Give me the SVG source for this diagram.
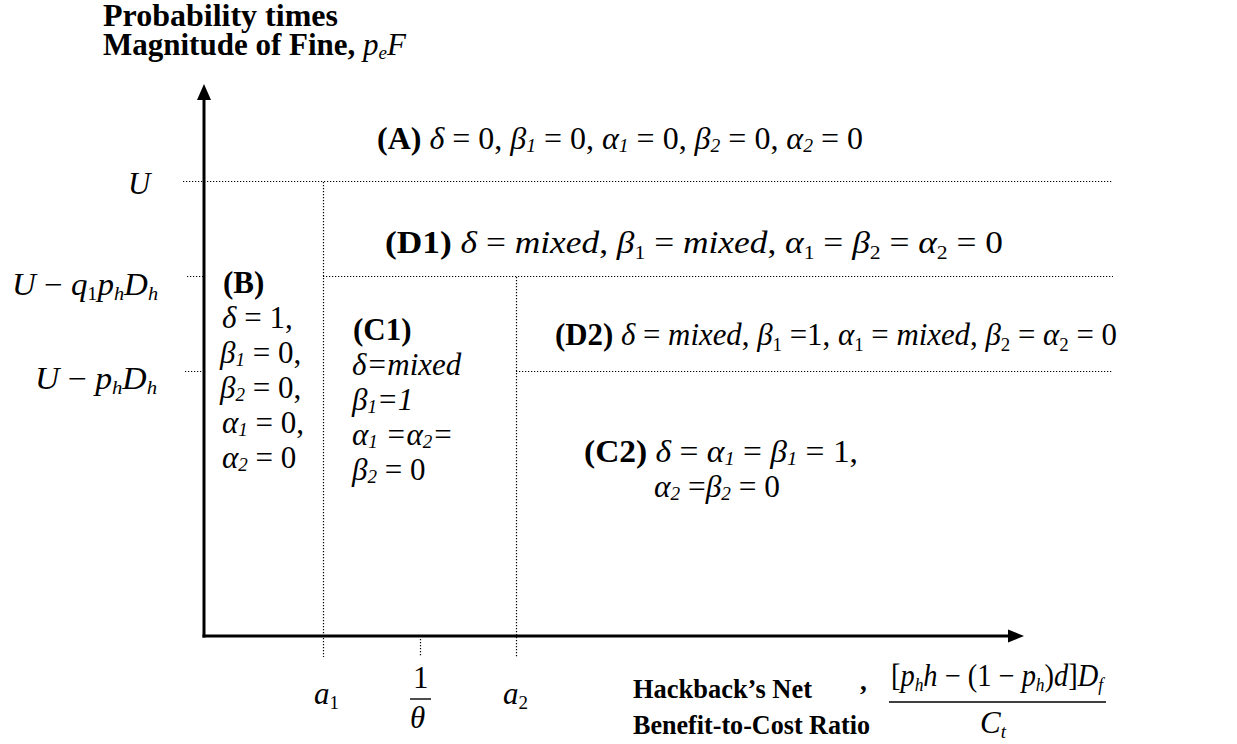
<svg xmlns="http://www.w3.org/2000/svg" width="1237" height="744" viewBox="0 0 1237 744">
<style>
text { font-family: "Liberation Serif", "Times New Roman", serif; fill: #000; font-size: 31px; }
.b { font-weight: bold; }
.i { font-style: italic; }
.ttl { font-size: 31px; font-weight: bold; }
.bt { font-size: 27px; font-weight: bold; }
.s { font-size: 19px; }
.ax { stroke: #000; stroke-width: 3; fill: none; }
.dot { stroke: #000; stroke-width: 1.2; stroke-dasharray: 1.2 1.8; fill: none; }
.bar { stroke: #000; stroke-width: 1.4; }
</style>
<rect width="1237" height="744" fill="#fff"/>

<g id="connectors">
  <line class="dot" x1="183" y1="181.5" x2="1113" y2="181.5"/>
  <line class="dot" x1="187" y1="276.5" x2="204" y2="276.5"/>
  <line class="dot" x1="323" y1="276.5" x2="1113" y2="276.5"/>
  <line class="dot" x1="185" y1="371.5" x2="204" y2="371.5"/>
  <line class="dot" x1="516" y1="371.5" x2="1113" y2="371.5"/>
  <line class="dot" x1="323.5" y1="182" x2="323.5" y2="657"/>
  <line class="dot" x1="420.5" y1="639" x2="420.5" y2="657"/>
  <line class="dot" x1="516.5" y1="277" x2="516.5" y2="657"/>
  <g id="axes">
    <line class="ax" x1="204" y1="98" x2="204" y2="637.5"/>
    <line class="ax" x1="202.5" y1="636" x2="1010" y2="636"/>
    <polygon points="204,84 197,100 211,100" fill="#000"/>
    <polygon points="1024,636 1008,629.5 1008,642.5" fill="#000"/>
  </g>
</g>

<g id="y-title">
  <text class="ttl" x="103" y="26"><tspan x="103" y="26" textLength="235" lengthAdjust="spacingAndGlyphs">Probability times</tspan><tspan x="103" y="55">Magnitude of Fine, </tspan><tspan class="i" font-weight="normal">p</tspan><tspan class="i s" font-weight="normal" dy="4">e</tspan><tspan class="i" font-weight="normal" dy="-4">F</tspan></text>
</g>

<g id="y-labels">
  <text class="i" x="128" y="194">U</text>
  <text x="12" y="295" textLength="146" lengthAdjust="spacingAndGlyphs"><tspan class="i">U</tspan> − <tspan class="i">q</tspan><tspan class="s" dy="5">1</tspan><tspan class="i" dy="-5">p</tspan><tspan class="i s" dy="5">h</tspan><tspan class="i" dy="-5">D</tspan><tspan class="i s" dy="5">h</tspan></text>
  <text x="35" y="389" textLength="122" lengthAdjust="spacingAndGlyphs"><tspan class="i">U</tspan> − <tspan class="i">p</tspan><tspan class="i s" dy="5">h</tspan><tspan class="i" dy="-5">D</tspan><tspan class="i s" dy="5">h</tspan></text>
</g>

<g id="region-A">
  <text x="377" y="149" textLength="486" lengthAdjust="spacingAndGlyphs"><tspan class="b">(A)</tspan>  <tspan class="i">δ</tspan> = 0, <tspan class="i">β</tspan><tspan class="i s" dy="3">1</tspan><tspan dy="-3"> = 0, </tspan><tspan class="i">α</tspan><tspan class="i s" dy="3">1</tspan><tspan dy="-3"> = 0, </tspan><tspan class="i">β</tspan><tspan class="i s" dy="3">2</tspan><tspan dy="-3"> = 0, </tspan><tspan class="i">α</tspan><tspan class="i s" dy="3">2</tspan><tspan dy="-3"> = 0</tspan></text>
</g>

<g id="region-D1">
  <text x="385" y="253" textLength="618" lengthAdjust="spacingAndGlyphs"><tspan class="b">(D1)</tspan>   <tspan class="i">δ</tspan> = <tspan class="i">mixed</tspan>, <tspan class="i">β</tspan><tspan class="s" dy="6">1</tspan><tspan dy="-6"> = </tspan><tspan class="i">mixed</tspan>, <tspan class="i">α</tspan><tspan class="s" dy="6">1</tspan><tspan dy="-6"> = </tspan><tspan class="i">β</tspan><tspan class="s" dy="6">2</tspan><tspan dy="-6"> = </tspan><tspan class="i">α</tspan><tspan class="s" dy="6">2</tspan><tspan dy="-6"> = 0</tspan></text>
</g>

<g id="region-D2">
  <text x="555" y="345" textLength="562" lengthAdjust="spacingAndGlyphs"><tspan class="b">(D2)</tspan> <tspan class="i">δ</tspan> = <tspan class="i">mixed</tspan>, <tspan class="i">β</tspan><tspan class="s" dy="6">1</tspan><tspan dy="-6"> =1, </tspan><tspan class="i">α</tspan><tspan class="s" dy="6">1</tspan><tspan dy="-6"> = </tspan><tspan class="i">mixed</tspan>, <tspan class="i">β</tspan><tspan class="s" dy="6">2</tspan><tspan dy="-6"> = </tspan><tspan class="i">α</tspan><tspan class="s" dy="6">2</tspan><tspan dy="-6"> = 0</tspan></text>
</g>

<g id="region-B">
  <text class="b" x="223" y="293">(B)</text>
  <text x="222" y="328"><tspan class="i">δ</tspan> = 1,</text>
  <text x="220" y="363"><tspan class="i">β</tspan><tspan class="i s" dy="3">1</tspan><tspan dy="-3"> = 0,</tspan></text>
  <text x="220" y="398"><tspan class="i">β</tspan><tspan class="i s" dy="3">2</tspan><tspan dy="-3"> = 0,</tspan></text>
  <text x="222" y="433"><tspan class="i">α</tspan><tspan class="i s" dy="3">1</tspan><tspan dy="-3"> = 0,</tspan></text>
  <text x="222" y="468"><tspan class="i">α</tspan><tspan class="i s" dy="3">2</tspan><tspan dy="-3"> = 0</tspan></text>
</g>

<g id="region-C1">
  <text class="b" x="353" y="340">(C1)</text>
  <text class="i" x="352" y="375">δ=mixed</text>
  <text class="i" x="352" y="410">β<tspan class="s" dy="3">1</tspan><tspan dy="-3">=1</tspan></text>
  <text class="i" x="352" y="445">α<tspan class="s" dy="3">1</tspan><tspan dy="-3"> =α</tspan><tspan class="s" dy="3">2</tspan><tspan dy="-3">=</tspan></text>
  <text x="352" y="480"><tspan class="i">β</tspan><tspan class="i s" dy="3">2</tspan><tspan dy="-3"> = 0</tspan></text>
</g>

<g id="region-C2">
  <text x="584" y="462" textLength="274" lengthAdjust="spacingAndGlyphs"><tspan class="b">(C2)</tspan>  <tspan class="i">δ</tspan> = <tspan class="i">α</tspan><tspan class="i s" dy="3">1</tspan><tspan dy="-3"> = </tspan><tspan class="i">β</tspan><tspan class="i s" dy="3">1</tspan><tspan dy="-3"> = 1,</tspan></text>
  <text x="654" y="497" textLength="126" lengthAdjust="spacingAndGlyphs"><tspan class="i">α</tspan><tspan class="i s" dy="3">2</tspan><tspan dy="-3"> =</tspan><tspan class="i">β</tspan><tspan class="i s" dy="3">2</tspan><tspan dy="-3"> = 0</tspan></text>
</g>

<g id="x-ticks">
  <text x="314" y="704"><tspan class="i">a</tspan><tspan class="s" dy="5">1</tspan></text>
  <text x="413" y="688">1</text>
  <line class="bar" x1="410" y1="699" x2="431" y2="699"/>
  <text class="i" x="410" y="728">θ</text>
  <text x="503" y="704"><tspan class="i">a</tspan><tspan class="s" dy="5">2</tspan></text>
</g>

<g id="x-title">
  <text class="bt" x="633" y="698" textLength="179" lengthAdjust="spacingAndGlyphs">Hackback’s Net</text>
  <text class="bt" x="633" y="734" textLength="237" lengthAdjust="spacingAndGlyphs">Benefit-to-Cost Ratio</text>
  <text class="bt" x="860" y="690">,</text>
  <text x="891" y="686" font-size="26" textLength="212" lengthAdjust="spacingAndGlyphs">[<tspan class="i">p</tspan><tspan class="i s" dy="5">h</tspan><tspan class="i" dy="-5">h</tspan> − (1 − <tspan class="i">p</tspan><tspan class="i s" dy="5">h</tspan><tspan dy="-5">)</tspan><tspan class="i">d</tspan>]<tspan class="i">D</tspan><tspan class="i s" dy="5">f</tspan></text>
  <line class="bar" x1="889" y1="702" x2="1106" y2="702"/>
  <text x="980" y="733" font-size="29"><tspan class="i">C</tspan><tspan class="i s" dy="5">t</tspan></text>
</g>
</svg>
